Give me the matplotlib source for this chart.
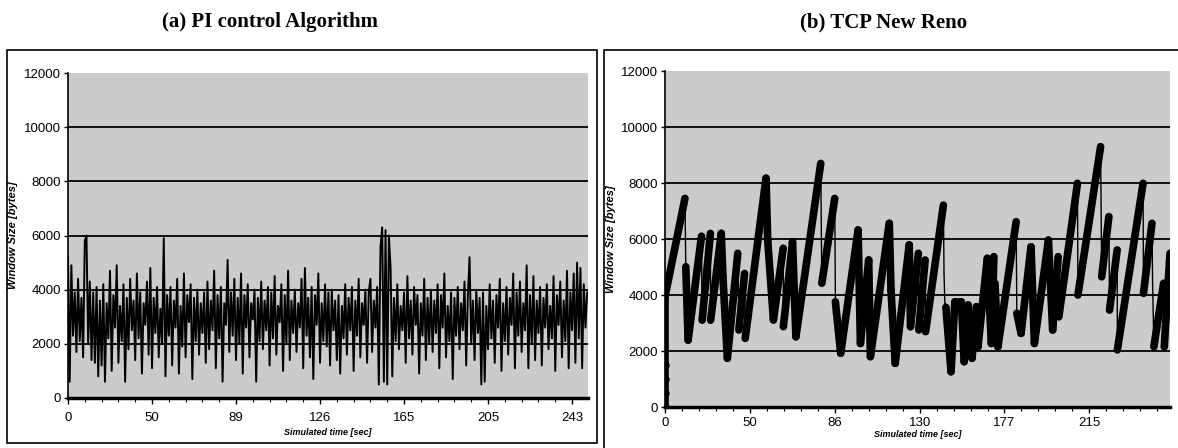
import numpy as np
import matplotlib
matplotlib.use("Agg")
import matplotlib.pyplot as plt
from matplotlib.patches import Rectangle

# (a) PI control: window size samples (bytes), one per category step
pi_window = [
    5200, 600, 4900, 2300, 3900, 1700, 4400, 2100, 3700, 1500, 5800, 6000, 2000, 4300, 1400, 3900, 1300, 4100, 800, 3600,
    1200, 4200, 600, 3500, 2200, 4700, 1000, 3800, 2600, 4900, 1300, 3400, 2100, 4200, 600, 3700, 1800, 4400, 2500, 3600,
    1400, 4600, 2200, 3900, 900, 3500, 2700, 4300, 1600, 4800, 1100, 3700, 2400, 4100, 1500, 3300, 2000, 5900, 800, 3800,
    2300, 4100, 1200, 3600, 2600, 4400, 900, 3400, 1900, 4600, 1500, 3800, 2800, 4200, 700, 3700, 2100, 4000, 1600, 3500,
    2400, 3900, 1300, 4300, 1800, 3600, 2500, 4700, 1100, 3800, 2200, 4100, 600, 3500, 2700, 5100, 1700, 3900, 2300, 4400,
    1400, 3700, 2000, 4600, 900, 3800, 2600, 4200, 1500, 3500, 2900, 4000, 600, 3700, 2100, 4300, 1800, 3600, 2500, 4100,
    1200, 3900, 2200, 4500, 1600, 3400, 2800, 4200, 1000, 3800, 2000, 4700, 1400, 3600, 2400, 4000, 1700, 3500, 2600, 4400,
    1100, 4800, 2300, 3700, 1500, 4100, 700, 3800, 2700, 4600, 1300, 3500, 2100, 4200, 1900, 3900, 1200, 4000, 2500, 3600,
    1400, 3800, 900, 3400, 2200, 4200, 1600, 3700, 2500, 4100, 1000, 3600, 2300, 4400, 1500, 3500, 2700, 4000, 1300, 3900,
    4400, 1700, 3600, 2600, 4100, 500, 5600, 6300, 600, 6200, 500, 6000, 4800, 800, 3700, 2100, 4200, 1800, 3400, 2500,
    3900, 1300, 4500, 2200, 3600, 1600, 4100, 2700, 3800, 900, 3500, 2300, 4400, 1400, 3700, 2000, 4000, 1700, 3600, 2400,
    4200, 1100, 3800, 2600, 4600, 1500, 3400, 2100, 3900, 700, 3700, 2300, 4100, 1800, 3500, 2500, 4300, 1200, 3800, 5200,
    2000, 3600, 1400, 4000, 2400, 3700, 500, 3900, 600, 3400, 1800, 4200, 2200, 3600, 1300, 3800, 2600, 4400, 1000, 3500,
    2100, 4100, 1600, 3700, 2700, 4600, 1100, 3900, 2300, 4300, 1700, 3500, 2500, 4900, 1100, 3800, 2000, 4500, 1400, 3600,
    2400, 4100, 1200, 3700, 2600, 4200, 1800, 3400, 2200, 4500, 1000, 3800, 2700, 4300, 1500, 3600, 2100, 4700, 1100, 3900,
    2500, 4600, 1300, 5000, 2200, 4800, 1100, 4200, 2600, 3900,
]
pi_ticklabels = ["0", "50", "89", "126", "165", "205", "243"]

# (b) TCP New Reno: sawtooth vertices (category position, bytes)
reno_pos = [0, 0, 9.4, 9.8, 10.9, 17.2, 17.5, 21.4, 21.5, 26.5, 27.3, 29.4, 34.3, 34.8, 37.5, 37.8,
            47.6, 48.4, 51.1, 55.7, 55.8, 60.1, 61.7, 73.4, 73.9, 80.0, 80.3, 82.8, 91.0, 92.1,
            96.0, 96.8, 105.7, 106.5, 108.5, 115.1, 115.7, 119.4, 119.6, 122.6, 122.8, 131.2,
            131.5, 131.9, 132.4, 134.8, 136.6, 139.7, 141.0, 142.9, 144.7, 146.8, 147.5, 151.9,
            153.8, 155.0, 155.5, 156.9, 165.5, 165.8, 167.8, 172.5, 174.1, 180.7, 182.7, 185.3,
            185.6, 194.4, 194.6, 205.3, 205.8, 209.2, 209.5, 213.1, 213.2, 225.3, 225.5, 229.5,
            229.8, 230.4, 235.0, 235.3, 238.0]
reno_window = [0, 3940, 7450, 5010, 2390, 6100, 3100, 6200, 3100, 6200, 4650, 1740, 5490, 2750, 4770, 2450,
               8170, 5960, 3110, 5670, 2870, 5900, 2510, 8700, 4420, 7450, 3760, 1920, 6320, 2270,
               5250, 1800, 6560, 4180, 1560, 5790, 2870, 5490, 2750, 5250, 2690, 7210,
               4770, 3700, 3560, 1260, 3760, 3760, 1620, 3640, 1740, 3580, 2150, 5310,
               2270, 5370, 4420, 2150, 6620, 3350, 2630, 5720, 2270, 5960, 2750, 5370,
               3220, 7990, 4000, 9300, 4650, 6800, 3460, 5610, 2040, 7990, 4060, 6560,
               4420, 2150, 4420, 2150, 5490]
reno_ticklabels = ["0", "50", "86", "130", "177", "215"]

tick_step = 40
pi_step = 50

fig = plt.figure(figsize=(11.78, 4.48), dpi=100)

# panel frames
fig.patches.append(Rectangle((7 / 1178, 1 - 443 / 448), 590 / 1178, 393 / 448,
                             transform=fig.transFigure, fill=False, ec="black", lw=1.2))
fig.patches.append(Rectangle((604 / 1178, -0.05), 0.5, 1 - 50 / 448 + 0.05,
                             transform=fig.transFigure, fill=False, ec="black", lw=1.2))

ax1 = fig.add_axes([68 / 1178, 1 - 398 / 448, 520 / 1178, 325 / 448])
ax2 = fig.add_axes([665 / 1178, 1 - 407 / 448, 505 / 1178, 336 / 448])

tick_font = dict(family="Liberation Sans", size=9.5)

for ax in (ax1, ax2):
    ax.set_facecolor("#cbcbcb")
    ax.set_ylim(0, 12000)
    ax.set_yticks(range(0, 12001, 2000))
    for y in range(2000, 12000, 2000):
        ax.axhline(y, color="black", lw=1.3, zorder=1)
    for s in ("top", "right"):
        ax.spines[s].set_visible(False)
    ax.spines["left"].set_linewidth(1.2)
    ax.spines["bottom"].set_linewidth(2.5)
    ax.tick_params(axis="y", length=3, width=1, pad=2)
    ax.tick_params(axis="x", length=4, width=1, pad=6)
    for lab in ax.get_yticklabels():
        lab.set_fontfamily("Liberation Sans")
        lab.set_fontsize(9.5)
    ax.set_ylabel("Window Size [bytes]", family="Liberation Sans", fontsize=8,
                  style="italic", fontweight="bold", labelpad=4)

# (a)
x1 = np.arange(len(pi_window))
ax1.plot(x1, pi_window, color="black", lw=1.4, zorder=3)
ax1.set_xlim(0, len(pi_window) - 0.5)
ax1.set_xticks(np.arange(len(pi_ticklabels)) * pi_step)
ax1.set_xticklabels(pi_ticklabels, **tick_font)
ax1.set_xticks(np.arange(0, len(pi_window), 10), minor=True)
ax1.tick_params(axis="x", which="minor", length=3, width=0.8)
ax1.set_xlabel("Simulated time [sec]", family="Liberation Sans", fontsize=6.5,
               style="italic", fontweight="bold", labelpad=3)

# (b) thick strokes, thin lines on the sharp drops
for i in range(len(reno_pos) - 1):
    dx = reno_pos[i + 1] - reno_pos[i]
    falling = reno_window[i + 1] < reno_window[i]
    thin = falling and dx < 0.6
    ax2.plot(reno_pos[i:i + 2], reno_window[i:i + 2], color="black",
             lw=1.0 if thin else 5.5, solid_capstyle="round", zorder=3)
ax2.plot([0, 0, 0, 0], [0, 500, 1000, 1500], "o", color="black", ms=5, zorder=3)
ax2.set_xlim(0, 238)
ax2.set_xticks(np.arange(len(reno_ticklabels)) * tick_step)
ax2.set_xticklabels(reno_ticklabels, **tick_font)
ax2.set_xticks(np.arange(0, 238, 8), minor=True)
ax2.tick_params(axis="x", which="minor", length=3, width=0.8)
ax2.tick_params(axis="x", pad=3)
ax2.set_xlabel("Simulated time [sec]", family="Liberation Sans", fontsize=6.5,
               style="italic", fontweight="bold", labelpad=1)

fig.text(270 / 1178, 1 - 22 / 448, "(a) PI control Algorithm", ha="center", va="center",
         family="Liberation Serif", fontweight="bold", fontsize=15)
fig.text(884 / 1178, 1 - 22 / 448, "(b) TCP New Reno", ha="center", va="center",
         family="Liberation Serif", fontweight="bold", fontsize=15)

fig.savefig("out.png", dpi=100)
